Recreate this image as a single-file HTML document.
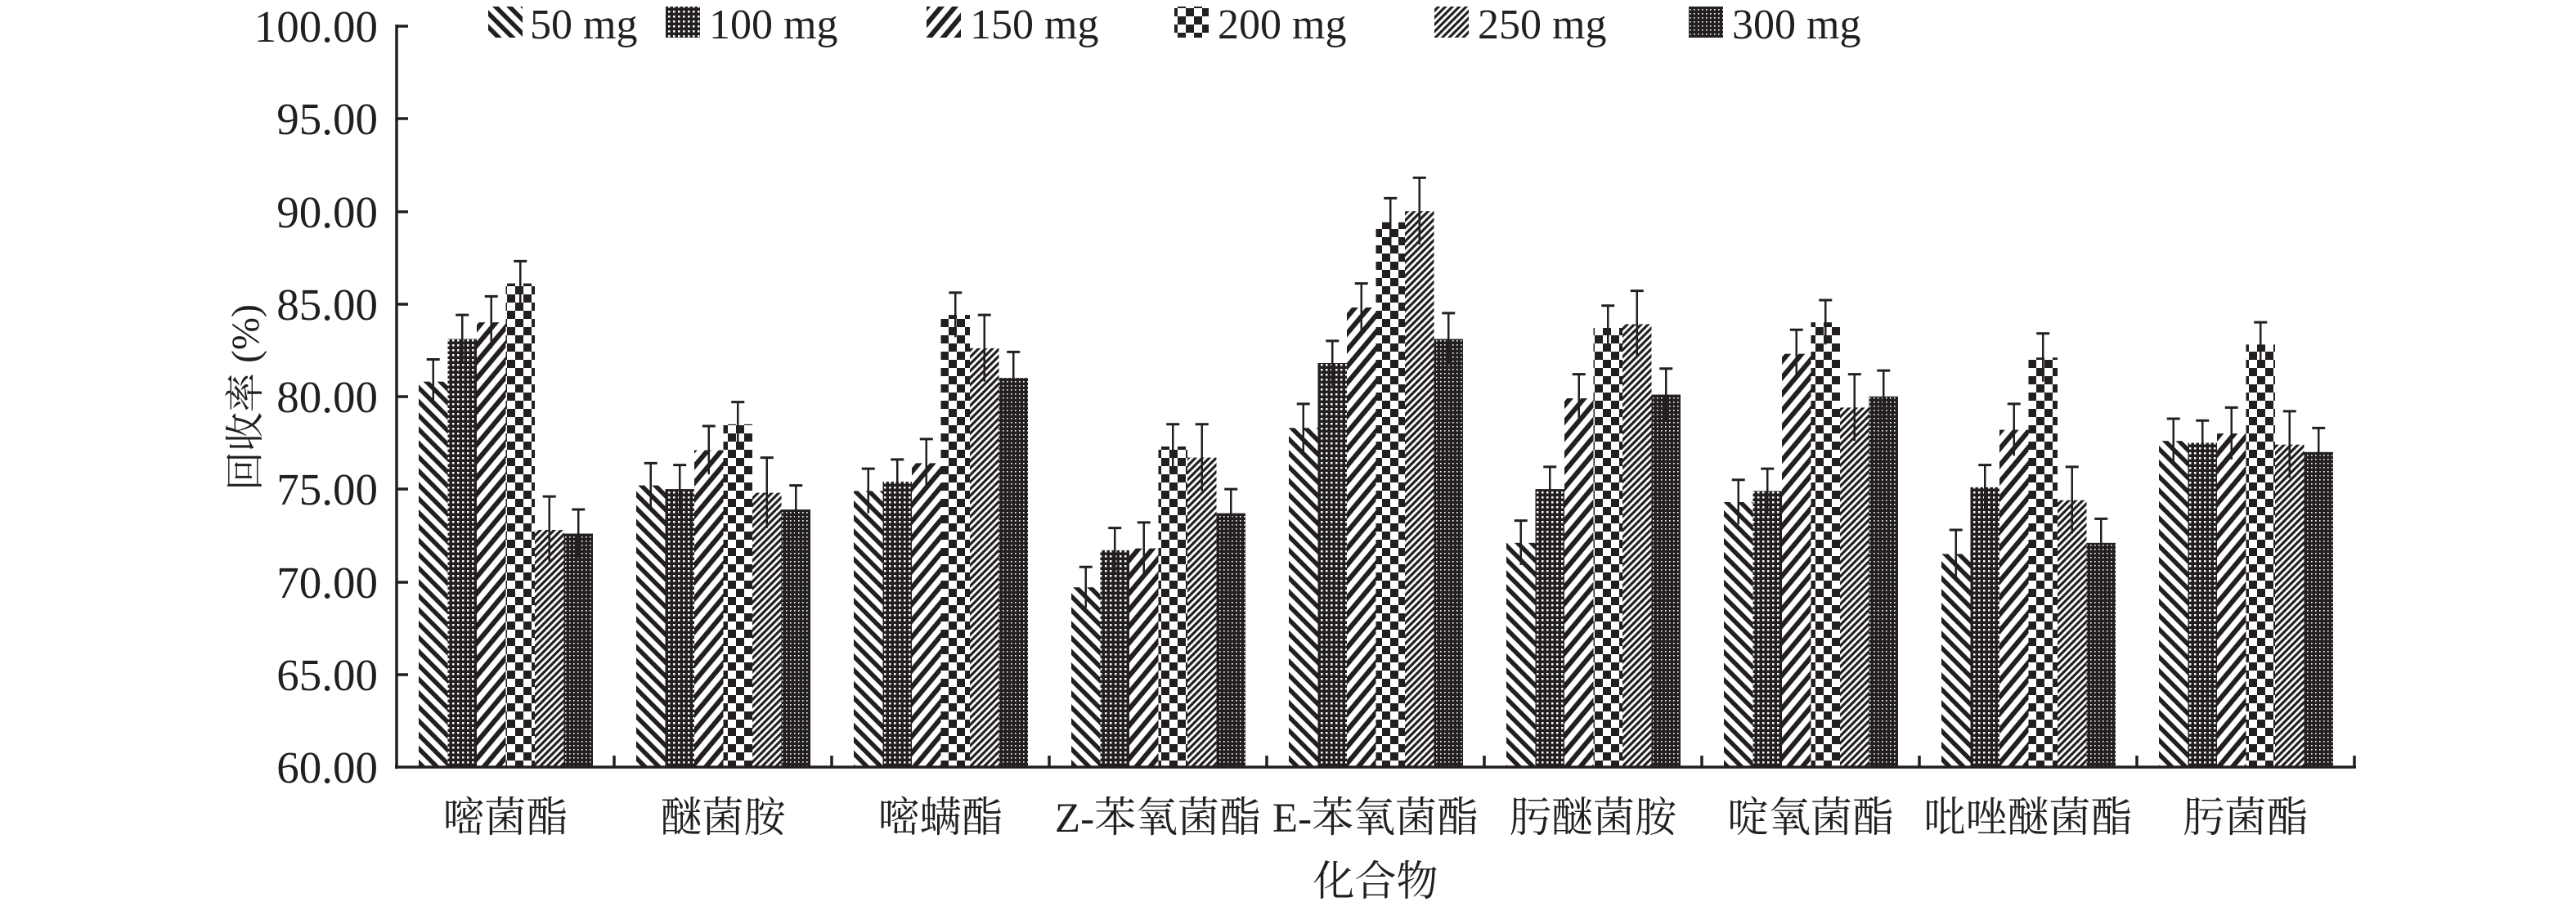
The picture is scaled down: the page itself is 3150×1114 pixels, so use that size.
<!DOCTYPE html>
<html><head><meta charset="utf-8"><style>
html,body{margin:0;padding:0;background:#fff}
svg{display:block}
text{font-family:"Liberation Serif","Noto Serif CJK SC",serif;fill:#231f20}
</style></head><body>
<svg id="s" width="3150" height="1114" viewBox="0 0 3150 1114" xmlns="http://www.w3.org/2000/svg">
<defs>
<pattern id="p0" width="12" height="12" patternUnits="userSpaceOnUse" patternTransform="rotate(-45)"><rect width="12" height="12" fill="#fff"/><rect width="5.5" height="12" fill="#231f20"/></pattern>
<pattern id="p1" width="6" height="6" patternUnits="userSpaceOnUse"><rect width="6" height="6" fill="#231f20"/><rect x="1" y="1" width="2.5" height="2.5" fill="#fff"/></pattern>
<pattern id="p2" width="13" height="13" patternUnits="userSpaceOnUse" patternTransform="rotate(40)"><rect width="13" height="13" fill="#fff"/><rect width="6" height="13" fill="#231f20"/></pattern>
<pattern id="p3" width="20" height="20" patternUnits="userSpaceOnUse"><rect width="20" height="20" fill="#fff"/><rect width="10" height="10" fill="#231f20"/><rect x="10" y="10" width="10" height="10" fill="#231f20"/></pattern>
<pattern id="p4" width="6" height="6" patternUnits="userSpaceOnUse" patternTransform="rotate(45)"><rect width="6" height="6" fill="#fff"/><rect width="3.2" height="6" fill="#231f20"/></pattern>
<pattern id="p5" width="5" height="5" patternUnits="userSpaceOnUse"><rect width="5" height="5" fill="#231f20"/><rect x="1" y="1" width="1.6" height="1.6" fill="#fff"/></pattern>
</defs>
<g id="bars"></g>
<g stroke="#231f20" stroke-width="3.5" fill="none">
<line x1="485" y1="30" x2="485" y2="940"/>
<line x1="483" y1="938" x2="2881" y2="938"/>
<line x1="485" y1="32" x2="499" y2="32"/><line x1="485" y1="145" x2="499" y2="145"/><line x1="485" y1="259" x2="499" y2="259"/><line x1="485" y1="372" x2="499" y2="372"/><line x1="485" y1="485" x2="499" y2="485"/><line x1="485" y1="598" x2="499" y2="598"/><line x1="485" y1="712" x2="499" y2="712"/><line x1="485" y1="825" x2="499" y2="825"/>
<line x1="751" y1="924" x2="751" y2="938"/><line x1="1017" y1="924" x2="1017" y2="938"/><line x1="1283" y1="924" x2="1283" y2="938"/><line x1="1549" y1="924" x2="1549" y2="938"/><line x1="1815" y1="924" x2="1815" y2="938"/><line x1="2081" y1="924" x2="2081" y2="938"/><line x1="2347" y1="924" x2="2347" y2="938"/><line x1="2613" y1="924" x2="2613" y2="938"/><line x1="2879" y1="924" x2="2879" y2="938"/>
</g>
<g font-size="55" text-anchor="end">
<text x="462" y="51">100.00</text><text x="462" y="164">95.00</text><text x="462" y="278">90.00</text><text x="462" y="391">85.00</text><text x="462" y="504">80.00</text><text x="462" y="617">75.00</text><text x="462" y="731">70.00</text><text x="462" y="844">65.00</text><text x="462" y="957">60.00</text>
</g>
<text x="305" y="486" font-size="48" text-anchor="middle" transform="rotate(-90 305 486)" dominant-baseline="middle">回收率 (%)</text>
<g font-size="51" text-anchor="middle">
<text x="618" y="1017">嘧菌酯</text><text x="884" y="1017">醚菌胺</text><text x="1150" y="1017">嘧螨酯</text><text x="1416" y="1017">Z-苯氧菌酯</text><text x="1682" y="1017">E-苯氧菌酯</text><text x="1948" y="1017">肟醚菌胺</text><text x="2214" y="1017">啶氧菌酯</text><text x="2480" y="1017">吡唑醚菌酯</text><text x="2746" y="1017">肟菌酯</text>
<text x="1682" y="1095">化合物</text>
</g>
<g font-size="52">
<rect x="597" y="8" width="42" height="38" fill="url(#p0)"/><text x="648" y="47">50 mg</text>
<rect x="814" y="8" width="42" height="38" fill="url(#p1)"/><text x="867" y="47">100 mg</text>
<rect x="1133" y="8" width="42" height="38" fill="url(#p2)"/><text x="1186" y="47">150 mg</text>
<rect x="1436" y="8" width="42" height="38" fill="url(#p3)"/><text x="1489" y="47">200 mg</text>
<rect x="1754" y="8" width="42" height="38" fill="url(#p4)"/><text x="1807" y="47">250 mg</text>
<rect x="2065" y="8" width="42" height="38" fill="url(#p5)"/><text x="2118" y="47">300 mg</text>
</g>
</svg>
<script>
var d=[[80.8,83.1,84.0,86.1,72.8,72.6],[75.2,75.0,77.1,78.5,74.8,73.9],[74.9,75.4,76.4,84.4,82.6,81.0],[69.7,71.7,71.8,77.3,76.7,73.7],[78.3,81.8,84.8,89.4,90.0,83.1],[72.1,75.0,79.9,83.7,83.9,80.1],[74.3,74.9,82.3,84.0,79.4,80.0],[71.5,75.1,78.2,82.1,74.4,72.1],[77.6,77.5,78.0,82.8,77.4,77.0]];
var e=[[1.2,1.3,1.4,1.2,1.8,1.3],[1.2,1.3,1.3,1.2,1.9,1.3],[1.2,1.2,1.3,1.2,1.8,1.4],[1.1,1.2,1.4,1.2,1.8,1.3],[1.3,1.2,1.3,1.3,1.8,1.4],[1.2,1.2,1.3,1.2,1.8,1.4],[1.2,1.2,1.3,1.2,1.8,1.4],[1.3,1.2,1.4,1.3,1.8,1.3],[1.2,1.2,1.4,1.2,1.8,1.3]];
function y(v){return 938-(v-60)*22.66;}
var h='';
for(var g=0;g<9;g++)for(var i=0;i<6;i++){
 var x=485+266*g+27+35.5*i, t=y(d[g][i]), cx=x+17.75, et=y(d[g][i]+e[g][i]), eb=y(d[g][i]-e[g][i]);
 h+='<rect x="'+x+'" y="'+t+'" width="35.5" height="'+(938-t)+'" fill="url(#p'+i+')"/>';
 h+='<line x1="'+cx+'" y1="'+et+'" x2="'+cx+'" y2="'+eb+'" stroke="#231f20" stroke-width="2.5"/>';
 h+='<line x1="'+(cx-8)+'" y1="'+et+'" x2="'+(cx+8)+'" y2="'+et+'" stroke="#231f20" stroke-width="3"/>';
}
document.getElementById('bars').innerHTML=h;
</script>
</body></html>
